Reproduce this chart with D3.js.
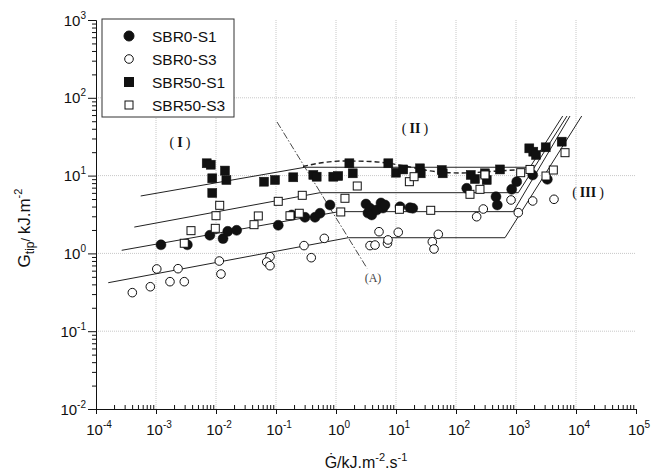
<!DOCTYPE html>
<html>
<head>
<meta charset="utf-8">
<script src="https://cdn.jsdelivr.net/npm/d3@7"></script>
<style>
body { margin: 0; background: #fff; }
svg { display: block; }
text { font-family: "Liberation Sans", Arial, sans-serif; fill: #111; }
</style>
</head>
<body>
<div id="vis"></div>
<script>
//-- Data
var seriesNames = ["SBR0-S1", "SBR0-S3", "SBR50-S1", "SBR50-S3"];

var sbr0s1Gdot = [0.00121, 0.00333, 0.0079, 0.0131, 0.0157, 0.0221, 0.109, 0.183, 0.304, 0.447, 0.541, 0.794,
  3.16, 3.41, 3.69, 3.94, 4.77, 5.62, 6.07, 6.56, 11.7, 17.1, 19.0, 151, 464, 488, 848, 1028, 1897, 3326];
var sbr0s1Gtip = [1.29, 1.29, 1.71, 1.55, 1.92, 1.98, 2.30, 3.12, 2.91, 2.91, 3.28, 4.19,
  4.31, 3.30, 3.80, 3.12, 3.61, 4.45, 3.83, 4.19, 3.98, 3.87, 3.80, 6.87, 5.36, 4.19, 6.66, 8.35, 10.2, 8.96];

var sbr0s3Gdot = [0.000403, 0.000804, 0.00103, 0.00171, 0.00233, 0.00296, 0.01135, 0.0121, 0.0794, 0.070, 0.0794,
  0.293, 0.387, 0.638, 3.69, 4.47, 5.21, 7.21, 7.36, 10.9, 40.3, 50.7, 43.0, 221, 285, 826, 1092, 1897, 4300];
var sbr0s3Gtip = [0.313, 0.373, 0.631, 0.433, 0.636, 0.433, 0.798, 0.543, 0.908, 0.775, 0.695,
  1.26, 0.881, 1.56, 1.26, 1.28, 1.90, 1.35, 1.49, 1.87, 1.41, 1.76, 1.14, 2.96, 3.72, 4.86, 3.34, 4.72, 4.96];

var sbr50s1Gdot = [0.0070, 0.00817, 0.0141, 0.00867, 0.0149, 0.00867, 0.0631, 0.0962, 0.194, 0.419, 0.476, 0.902,
  1.09, 1.67, 1.90, 7.45, 10, 13.2, 25.1, 25.8, 57.8, 60, 176, 207, 304, 325, 541, 1667, 1941, 2154, 3126, 5781];
var sbr50s1Gtip = [14.4, 13.8, 11.6, 9.23, 8.78, 5.98, 8.35, 8.78, 9.51, 10.2, 9.68, 9.68,
  9.88, 14.4, 10.7, 14.4, 10.9, 12.0, 12.4, 10.7, 11.8, 10.7, 10.2, 9.04, 10.7, 8.78, 12.0, 22.4, 20.3, 18.4, 23.1, 27.3];

var sbr50s3Gdot = [0.01153, 0.01, 0.00383, 0.00973, 0.00296, 0.0507, 0.043, 0.109, 0.274, 0.171, 0.244, 1.41,
  2.26, 1.20, 16.7, 20, 11.4, 37.9, 304, 171, 251, 1197, 1711, 3162, 4188, 6561];
var sbr50s3Gtip = [4.15, 3.05, 1.96, 2.10, 1.35, 3.03, 2.34, 4.67, 5.58, 3.05, 3.28, 5.11,
  7.35, 3.41, 8.35, 9.68, 3.69, 3.58, 10.2, 5.75, 6.66, 10.9, 12.0, 9.88, 11.8, 19.7];

// fitted lines: region I slope, plateau (II), steep rise (III)
var fit0s1Gdot = [0.000268, 1.12, 902, 7943];
var fit0s1Gtip = [1.096, 3.44, 3.44, 58.3];
var fit0s3Gdot = [0.000160, 1.60, 656, 12450];
var fit0s3Gtip = [0.42, 1.59, 1.59, 58.3];
var fit50s1Gdot = [0.000556, 0.304, 1711, 6000];
var fit50s1Gtip = [5.47, 12.8, 12.8, 58.3];
var fit50s3Gdot = [0.000435, 0.541, 1092, 7079];
var fit50s3Gtip = [2.18, 6.03, 6.03, 58.3];

// dashed trend of SBR50-S1
var dashGdot = [0.282, 0.541, 1.31, 3.69, 7.94, 17.1, 36.9, 117, 541, 1711];
var dashGtip = [13.1, 14.5, 15.4, 15.2, 14.3, 12.9, 11.5, 10.8, 11.5, 12.2];

// dash-dot boundary (A)
var lineAGdot = [0.104, 3.29];
var lineAGtip = [48.9, 0.644];

var xDecades = [-4, -3, -2, -1, 0, 1, 2, 3, 4, 5];
var yDecades = [-2, -1, 0, 1, 2, 3];

//-- Setup
var width = 652;
var height = 475;

var svg = d3.select("#vis").append("svg")
  .attr("width", width)
  .attr("height", height);

var x = d3.scaleLog().domain([1e-4, 1e5]).range([96, 636]);
var y = d3.scaleLog().domain([1e-2, 1e3]).range([409, 20]);

function zip(xs, ys) {
  return xs.map(function (v, i) { return [v, ys[i]]; });
}

function minorValues(decs) {
  var out = [];
  decs.slice(0, -1).forEach(function (d) {
    for (var k = 2; k <= 9; k++) out.push(k * Math.pow(10, d));
  });
  return out;
}

// grid
var grid = svg.append("g").attr("stroke", "#c8c8c8").attr("stroke-width", 1).attr("stroke-dasharray", "1,1");
xDecades.slice(1, -1).forEach(function (d) {
  grid.append("line")
    .attr("x1", x(Math.pow(10, d))).attr("x2", x(Math.pow(10, d)))
    .attr("y1", y(1e-2)).attr("y2", y(1e3));
});
yDecades.slice(1, -1).forEach(function (d) {
  grid.append("line")
    .attr("x1", x(1e-4)).attr("x2", x(1e5))
    .attr("y1", y(Math.pow(10, d))).attr("y2", y(Math.pow(10, d)));
});

// fitted lines
var line = d3.line()
  .x(function (d) { return x(d[0]); })
  .y(function (d) { return y(d[1]); });

[[fit0s1Gdot, fit0s1Gtip], [fit0s3Gdot, fit0s3Gtip], [fit50s1Gdot, fit50s1Gtip], [fit50s3Gdot, fit50s3Gtip]]
  .forEach(function (f) {
    svg.append("path")
      .attr("d", line(zip(f[0], f[1])))
      .attr("fill", "none")
      .attr("stroke", "#222")
      .attr("stroke-width", 1);
  });

svg.append("path")
  .attr("d", line.curve(d3.curveMonotoneX)(zip(dashGdot, dashGtip)))
  .attr("fill", "none")
  .attr("stroke", "#222")
  .attr("stroke-width", 1.4)
  .attr("stroke-dasharray", "5,3");
line.curve(d3.curveLinear);

svg.append("path")
  .attr("d", line(zip(lineAGdot, lineAGtip)))
  .attr("fill", "none")
  .attr("stroke", "#333")
  .attr("stroke-width", 0.9)
  .attr("stroke-dasharray", "7,2,1.5,2");

// points
function drawCircles(xs, ys, filled) {
  svg.append("g").selectAll("circle")
    .data(zip(xs, ys))
    .enter()
    .append("circle")
    .attr("cx", function (d) { return x(d[0]); })
    .attr("cy", function (d) { return y(d[1]); })
    .attr("r", filled ? 5 : 4.3)
    .attr("fill", filled ? "#111" : "#fff")
    .attr("stroke", "#111")
    .attr("stroke-width", filled ? 0.5 : 1);
}

function drawSquares(xs, ys, filled) {
  var s = filled ? 9 : 8;
  svg.append("g").selectAll("rect")
    .data(zip(xs, ys))
    .enter()
    .append("rect")
    .attr("x", function (d) { return x(d[0]) - s / 2; })
    .attr("y", function (d) { return y(d[1]) - s / 2; })
    .attr("width", s)
    .attr("height", s)
    .attr("fill", filled ? "#111" : "#fff")
    .attr("stroke", "#111")
    .attr("stroke-width", filled ? 0.5 : 1);
}

drawCircles(sbr0s1Gdot, sbr0s1Gtip, true);
drawCircles(sbr0s3Gdot, sbr0s3Gtip, false);
drawSquares(sbr50s1Gdot, sbr50s1Gtip, true);
drawSquares(sbr50s3Gdot, sbr50s3Gtip, false);

// region labels
function regionLabel(xv, yv, numeral) {
  var t = svg.append("text")
    .attr("x", x(xv)).attr("y", y(yv) + 5)
    .attr("text-anchor", "middle")
    .style("font-family", "'Liberation Serif', 'DejaVu Serif', serif")
    .style("font-size", "14px");
  t.append("tspan").text("(");
  t.append("tspan").attr("dx", 3).style("font-weight", "bold").text(numeral);
  t.append("tspan").attr("dx", 3).text(")");
}
regionLabel(0.00251, 27.3, "I");
regionLabel(20.7, 40.9, "II");
regionLabel(15850, 6.15, "III");

svg.append("text")
  .attr("x", x(4.14)).attr("y", y(0.498) + 5)
  .attr("text-anchor", "middle")
  .style("font-family", "'Liberation Serif', 'DejaVu Serif', serif")
  .style("font-size", "12px")
  .style("fill", "#444")
  .text("(A)");

// axes
var xMajor = d3.axisBottom(x).tickValues(xDecades.map(function (d) { return Math.pow(10, d); }))
  .tickSize(5).tickSizeOuter(0).tickFormat("");
var xMinor = d3.axisTop(x).tickValues(minorValues(xDecades)).tickSize(4).tickSizeOuter(0).tickFormat("");
var yMajor = d3.axisLeft(y).tickValues(yDecades.map(function (d) { return Math.pow(10, d); }))
  .tickSize(8).tickSizeOuter(0).tickFormat("");
var yMinor = d3.axisLeft(y).tickValues(minorValues(yDecades)).tickSize(4).tickSizeOuter(0).tickFormat("");

svg.append("g").attr("transform", "translate(0," + y(1e-2) + ")").call(xMajor);
svg.append("g").attr("transform", "translate(0," + y(1e-2) + ")").call(xMinor);
svg.append("g").attr("transform", "translate(" + x(1e-4) + ",0)").call(yMajor);
svg.append("g").attr("transform", "translate(" + x(1e-4) + ",0)").call(yMinor);
svg.selectAll(".domain").attr("stroke", "#111");
svg.selectAll(".tick line").attr("stroke", "#111");

function powLabel(sel, exp) {
  sel.append("tspan").text("10");
  sel.append("tspan").attr("dy", -7).style("font-size", "10px").text(exp < 0 ? "-" + (-exp) : exp);
}

xDecades.forEach(function (d) {
  var t = svg.append("text")
    .attr("x", x(Math.pow(10, d)) + 3).attr("y", 435)
    .attr("text-anchor", "middle")
    .style("font-size", "15px");
  powLabel(t, d);
});
yDecades.forEach(function (d) {
  var t = svg.append("text")
    .attr("x", 86).attr("y", y(Math.pow(10, d)) + 5.5)
    .attr("text-anchor", "end")
    .style("font-size", "15px");
  powLabel(t, d);
});

// axis titles
var xt = svg.append("text")
  .attr("x", (x(1e-4) + x(1e5)) / 2).attr("y", 468)
  .attr("text-anchor", "middle")
  .style("font-size", "16px");
xt.append("tspan").text("\u0120/kJ.m");
xt.append("tspan").attr("dy", -7).style("font-size", "11px").text("-2");
xt.append("tspan").attr("dy", 7).text(".s");
xt.append("tspan").attr("dy", -7).style("font-size", "11px").text("-1");

var yt = svg.append("text")
  .attr("transform", "translate(30," + 228 + ") rotate(-90)")
  .attr("text-anchor", "middle")
  .style("font-size", "17px");
yt.append("tspan").text("G");
yt.append("tspan").attr("dy", 4).style("font-size", "12px").text("tip");
yt.append("tspan").attr("dy", -4).style("font-size", "13px").text("/ ");
yt.append("tspan").text("kJ.m");
yt.append("tspan").attr("dy", -8).style("font-size", "11px").text("-2");

// legend
var legend = svg.append("g");
legend.append("rect")
  .attr("x", 102).attr("y", 19).attr("width", 132).attr("height", 98)
  .attr("fill", "#fff").attr("stroke", "#333").attr("stroke-width", 1);

seriesNames.forEach(function (name, i) {
  var cy = 36 + i * 23;
  if (i < 2) {
    legend.append("circle")
      .attr("cx", 129).attr("cy", cy).attr("r", i === 0 ? 5 : 4.3)
      .attr("fill", i === 0 ? "#111" : "#fff").attr("stroke", "#111").attr("stroke-width", 1);
  } else {
    var s = i === 2 ? 9 : 8;
    legend.append("rect")
      .attr("x", 129 - s / 2).attr("y", cy - s / 2).attr("width", s).attr("height", s)
      .attr("fill", i === 2 ? "#111" : "#fff").attr("stroke", "#111").attr("stroke-width", 1);
  }
  legend.append("text")
    .attr("x", 152).attr("y", cy + 5.5)
    .style("font-size", "15.5px")
    .text(name);
});
</script>
</body>
</html>
